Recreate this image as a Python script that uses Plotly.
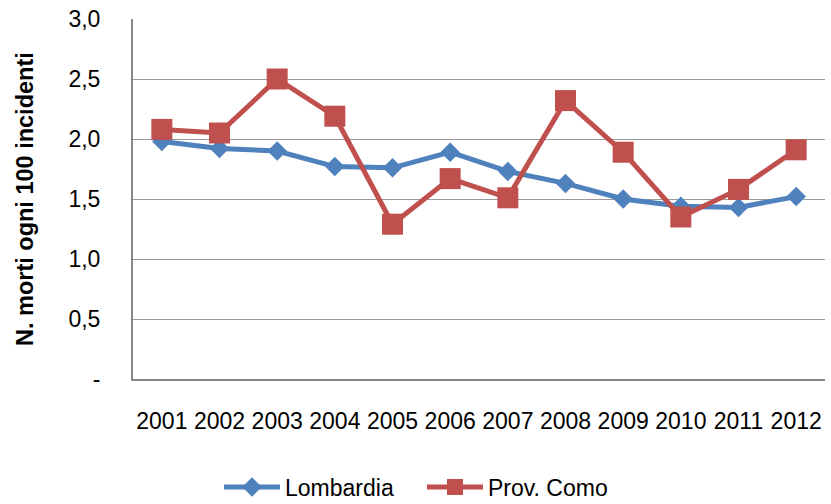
import plotly.graph_objects as go

years = ["2001", "2002", "2003", "2004", "2005", "2006", "2007", "2008", "2009", "2010", "2011", "2012"]
lombardia = [1.98, 1.92, 1.90, 1.77, 1.76, 1.89, 1.73, 1.63, 1.50, 1.44, 1.43, 1.52]
como = [2.08, 2.05, 2.50, 2.19, 1.29, 1.67, 1.51, 2.32, 1.89, 1.35, 1.58, 1.91]
ytick_vals = [0, 0.5, 1.0, 1.5, 2.0, 2.5, 3.0]
ytick_text = ["-", "0,5", "1,0", "1,5", "2,0", "2,5", "3,0"]

FONT = "Liberation Sans, Arial"

fig = go.Figure()
fig.add_trace(go.Scatter(
    x=years, y=lombardia, name="Lombardia", mode="lines+markers",
    line=dict(color="#4F81BD", width=5),
    marker=dict(symbol="diamond", size=15, color="#4F81BD"),
))
fig.add_trace(go.Scatter(
    x=years, y=como, name="Prov. Como", mode="lines+markers",
    line=dict(color="#C0504D", width=5),
    marker=dict(symbol="square", size=21, color="#C0504D"),
))

fig.update_layout(
    width=831, height=504,
    margin=dict(l=133, r=6, t=19, b=125, autoexpand=False),
    paper_bgcolor="white", plot_bgcolor="white",
    font=dict(family=FONT, size=23, color="black"),
    showlegend=True,
    legend=dict(orientation="h", x=(219 - 133) / 692, xanchor="left",
                y=-108 / 360, yanchor="middle", font=dict(size=23, family=FONT),
                itemwidth=56, entrywidth=132, entrywidthmode="pixels",
                tracegroupgap=0),
    xaxis=dict(
        type="category", showgrid=False, showline=True, linecolor="#868686", linewidth=2,
        ticks="", ticklabelstandoff=20, tickfont=dict(size=23, family=FONT),
        range=[-0.5, 11.5], fixedrange=True,
    ),
    yaxis=dict(
        range=[0, 3.0], tickvals=ytick_vals, ticktext=ytick_text,
        showgrid=True, gridcolor="#9A9A9A", gridwidth=1.3,
        showline=True, linecolor="#868686", linewidth=2,
        ticks="", ticklabelstandoff=26, tickfont=dict(size=23, family=FONT),
        zeroline=False,
    ),
    annotations=[dict(
        text="<b>N. morti ogni 100 incidenti</b>", textangle=-90,
        xref="paper", yref="paper", x=(25 - 133) / 692, y=(379 - 199) / 360,
        xanchor="center", yanchor="middle", showarrow=False,
        font=dict(size=23.5, family=FONT, color="black"),
    )],
)

fig.write_html(
    "out.html",
    config={"displayModeBar": False},
    post_script="document.body.style.margin='0';document.body.style.overflow='hidden';",
)
